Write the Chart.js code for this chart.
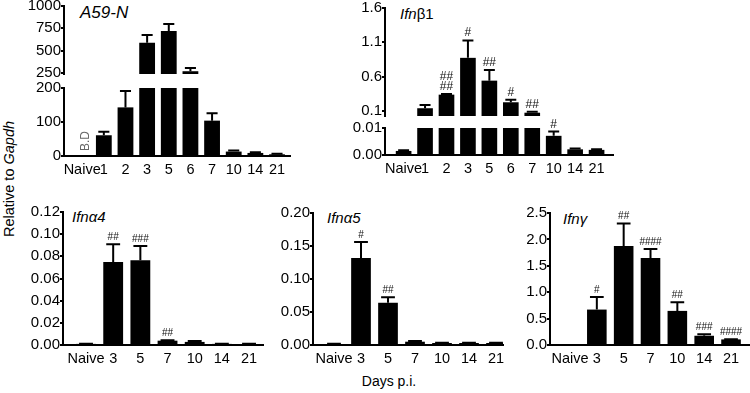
<!DOCTYPE html>
<html>
<head>
<meta charset="utf-8">
<script src="https://cdn.jsdelivr.net/npm/chart.js@4.4.0/dist/chart.umd.min.js"></script>
<style>
html, body { margin: 0; padding: 0; background: #fff; overflow: hidden; width: 750px; height: 393px; }
#fig { position: relative; width: 750px; height: 393px; font-family: "Liberation Sans", Arial, sans-serif; color: #000; overflow: hidden; }
#fig canvas { position: absolute; }
.lbl { position: absolute; white-space: nowrap; line-height: 1; }
</style>
</head>
<body>
<div id="fig">
  <div class="lbl" style="left:80px;top:4px;font-size:17px;font-style:italic;">A59-N</div>
  <div class="lbl" style="left:400px;top:6px;font-size:15px;"><i>Ifn</i>β1</div>
  <div class="lbl" style="left:72px;top:209px;font-size:15px;font-style:italic;">Ifnα4</div>
  <div class="lbl" style="left:327px;top:210px;font-size:15px;font-style:italic;">Ifnα5</div>
  <div class="lbl" style="left:563px;top:211px;font-size:15px;font-style:italic;">Ifnγ</div>
  <div class="lbl" style="left:8.5px;top:179px;font-size:14.5px;transform:translate(-50%,-50%) rotate(-90deg);">Relative to <i>Gapdh</i></div>
  <div class="lbl" style="left:389px;top:374px;font-size:14px;transform:translateX(-50%);">Days p.i.</div>
</div>
<script>
// ==========================================
// 1. DATA
// ==========================================
const daysLong = ['Naive', '1', '2', '3', '5', '6', '7', '10', '14', '21'];
const daysShort = ['Naive', '3', '5', '7', '10', '14', '21'];

// A59-N (broken axis)
const a59Mean = [0, 61, 143, 589, 720, 270, 104, 13, 9, 5];
const a59Err = [0, 10, 48, 86, 79, 35, 22, 3, 2, 1.5];
const a59Notes = ['B.D', '', '', '', '', '', '', '', '', ''];
const a59TicksHigh = [250, 500, 750, 1000];
const a59TicksLow = [0, 100, 200];

// Ifnb1 (broken axis)
const b1Mean = [0.0015, 0.14, 0.338, 0.874, 0.542, 0.227, 0.075, 0.0071, 0.0021, 0.0019];
const b1Err = [0.0003, 0.048, 0.01, 0.253, 0.156, 0.035, 0.013, 0.0016, 0.0003, 0.0002];
const b1Marks = ['', '', '##\n##', '#', '##', '#', '##', '#', '', ''];
const b1TicksHigh = [0.1, 0.6, 1.1, 1.6];
const b1TicksLow = [0, 0.01];

// Ifna4
const a4Mean = [0.001, 0.0748, 0.0764, 0.0039, 0.0028, 0.001, 0.0008];
const a4Err = [0.0002, 0.016, 0.013, 0.0004, 0.0007, 0.0002, 0.0004];
const a4Marks = ['', '##', '###', '##', '', '', ''];
const a4Ticks = [0, 0.02, 0.04, 0.06, 0.08, 0.10, 0.12];

// Ifna5
const a5Mean = [0.0015, 0.132, 0.064, 0.005, 0.003, 0.003, 0.003];
const a5Err = [0.0005, 0.024, 0.0083, 0.001, 0.0005, 0.0005, 0.0005];
const a5Marks = ['', '#', '##', '', '', '', ''];
const a5Ticks = [0, 0.05, 0.10, 0.15, 0.20];

// Ifng
const gMean = [0, 0.671, 1.873, 1.65, 0.646, 0.175, 0.106];
const gErr = [0, 0.24, 0.43, 0.17, 0.165, 0.03, 0.005];
const gMarks = ['', '#', '##', '####', '##', '###', '####'];
const gTicks = [0, 0.5, 1.0, 1.5, 2.0, 2.5];

// ==========================================
// 2. LAYOUT CONFIG
// ==========================================
const FONT = '"Liberation Sans", Arial, sans-serif';
const Y_W = 50, PAD_T = 12, PAD_R = 10, X_H = 26, PAD_B = 12;
const fig = document.getElementById('fig');
Chart.defaults.font.family = FONT;

// error bars, # marks and rotated notes
const errorBars = {
    id: 'errorBars',
    afterDatasetsDraw(chart) {
        const ctx = chart.ctx, area = chart.chartArea, ys = chart.scales.y;
        chart.data.datasets.forEach((ds, di) => {
            const meta = chart.getDatasetMeta(di);
            meta.data.forEach((bar, i) => {
                const v = ds.data[i].y, e = ds.err[i];
                const x = bar.x, half = bar.width * 0.35;
                const y1 = ys.getPixelForValue(v + e);
                if (e > 0) {
                    ctx.save();
                    ctx.beginPath();
                    ctx.rect(area.left, area.top - 1, area.width, area.height + 1);
                    ctx.clip();
                    ctx.strokeStyle = '#000';
                    ctx.lineWidth = 2;
                    ctx.beginPath();
                    ctx.moveTo(x, ys.getPixelForValue(v));
                    ctx.lineTo(x, y1);
                    ctx.moveTo(x - half, y1);
                    ctx.lineTo(x + half, y1);
                    ctx.stroke();
                    ctx.restore();
                }
                const m = ds.marks[i];
                if (m && v + e >= ys.min && v + e <= ys.max) {
                    const lines = m.split('\n');
                    ctx.save();
                    ctx.fillStyle = '#111';
                    ctx.font = ds.markSize + 'px ' + FONT;
                    ctx.textAlign = 'center';
                    ctx.textBaseline = 'alphabetic';
                    lines.reverse().forEach((ln, k) => {
                        ctx.fillText(ln, x, y1 - 4 - k * ds.markSize * 0.85);
                    });
                    ctx.restore();
                }
                const note = ds.notes[i];
                if (note) {
                    ctx.save();
                    ctx.fillStyle = '#666';
                    ctx.font = '12px ' + FONT;
                    ctx.translate(x + 4, area.bottom - 5);
                    ctx.rotate(-Math.PI / 2);
                    ctx.textAlign = 'left';
                    ctx.textBaseline = 'middle';
                    ctx.fillText(note, 0, 0);
                    ctx.restore();
                }
            });
        });
    }
};

// ==========================================
// 3. CHART BUILDER
// ==========================================
function buildChart(cv, opt) {
    return new Chart(cv, {
        type: 'bar',
        data: {
            datasets: [{
                data: opt.mean.map((v, i) => ({ x: i, y: v })),
                backgroundColor: '#000',
                barPercentage: 0.73,
                categoryPercentage: 1,
                clip: 0,
                err: opt.err,
                marks: opt.marks || [],
                notes: opt.notes || [],
                markSize: opt.markSize || 10
            }]
        },
        options: {
            responsive: false, maintainAspectRatio: false, animation: false, events: [],
            layout: { padding: { top: PAD_T, right: PAD_R, bottom: opt.showX ? 0 : PAD_B, left: 0 } },
            plugins: { legend: { display: false }, tooltip: { enabled: false } },
            scales: {
                x: {
                    type: 'linear', offset: false, display: opt.showX, min: opt.xMin, max: opt.xMax,
                    afterBuildTicks: s => { s.ticks = opt.labels.map((_, i) => ({ value: i })); },
                    afterFit: s => { if (opt.showX) s.height = X_H; },
                    grid: { display: false, drawTicks: false },
                    border: { color: '#000', width: 2 },
                    ticks: { autoSkip: false, maxRotation: 0, padding: 5, color: '#000', font: { size: 14.5 }, callback: v => opt.labels[v] }
                },
                y: {
                    min: opt.yMin, max: opt.yMax,
                    afterBuildTicks: s => { s.ticks = opt.yTicks.map(v => ({ value: v })); },
                    afterFit: s => { s.width = Y_W; },
                    grid: { drawOnChartArea: false, tickLength: 3, color: '#000', lineWidth: 2 },
                    border: { color: '#000', width: 2 },
                    ticks: { autoSkip: false, padding: 0, color: '#000', font: { size: 15 }, callback: v => v.toFixed(opt.dec) }
                }
            }
        },
        plugins: [errorBars]
    });
}

// place a chart so its plot area lands on opt.area (page pixels)
function segment(opt) {
    const cv = document.createElement('canvas');
    fig.appendChild(cv);
    const w = opt.area.r - opt.area.l, h = opt.area.b - opt.area.t;
    let cw = Y_W + w + PAD_R, ch = PAD_T + h + (opt.showX ? X_H : PAD_B);
    cv.width = cw; cv.height = ch;
    let chart = buildChart(cv, opt);
    let ca = chart.chartArea;
    const dw = Math.round(w - (ca.right - ca.left)), dh = Math.round(h - (ca.bottom - ca.top));
    if (dw || dh) {
        chart.destroy();
        cw += dw; ch += dh;
        cv.width = cw; cv.height = ch;
        chart = buildChart(cv, opt);
        ca = chart.chartArea;
    }
    cv.style.left = Math.round(opt.area.l - ca.left) + 'px';
    cv.style.top = Math.round(opt.area.t - ca.top) + 'px';
    return chart;
}

// ==========================================
// 4. PANELS
// ==========================================
// A59-N
segment({ area: { l: 64, t: 6, r: 290, b: 74 }, showX: false, labels: daysLong, mean: a59Mean, err: a59Err,
    xMin: -0.84, xMax: 9.60, yMin: 239, yMax: 1000, yTicks: a59TicksHigh, dec: 0 });
segment({ area: { l: 64, t: 88, r: 290, b: 156 }, showX: true, labels: daysLong, mean: a59Mean, err: a59Err, notes: a59Notes,
    xMin: -0.84, xMax: 9.60, yMin: 0, yMax: 200, yTicks: a59TicksLow, dec: 0 });

// Ifnb1
segment({ area: { l: 385, t: 8, r: 613, b: 116 }, showX: false, labels: daysLong, mean: b1Mean, err: b1Err, marks: b1Marks, markSize: 12,
    xMin: -0.868, xMax: 9.766, yMin: 0.027, yMax: 1.6, yTicks: b1TicksHigh, dec: 1 });
segment({ area: { l: 385, t: 128, r: 613, b: 155 }, showX: true, labels: daysLong, mean: b1Mean, err: b1Err, marks: b1Marks, markSize: 12,
    xMin: -0.868, xMax: 9.766, yMin: 0, yMax: 0.01, yTicks: b1TicksLow, dec: 2 });

// Ifna4, Ifna5, Ifng
segment({ area: { l: 63, t: 212, r: 263, b: 345 }, showX: true, labels: daysShort, mean: a4Mean, err: a4Err, marks: a4Marks,
    xMin: -0.847, xMax: 6.514, yMin: 0, yMax: 0.12, yTicks: a4Ticks, dec: 2 });
segment({ area: { l: 313, t: 213, r: 503, b: 345 }, showX: true, labels: daysShort, mean: a5Mean, err: a5Err, marks: a5Marks,
    xMin: -0.778, xMax: 6.259, yMin: 0, yMax: 0.2, yTicks: a5Ticks, dec: 2 });
segment({ area: { l: 550, t: 213, r: 750, b: 345 }, showX: true, labels: daysShort, mean: gMean, err: gErr, marks: gMarks,
    xMin: -0.745, xMax: 6.707, yMin: 0, yMax: 2.5, yTicks: gTicks, dec: 1 });
</script>
</body>
</html>
